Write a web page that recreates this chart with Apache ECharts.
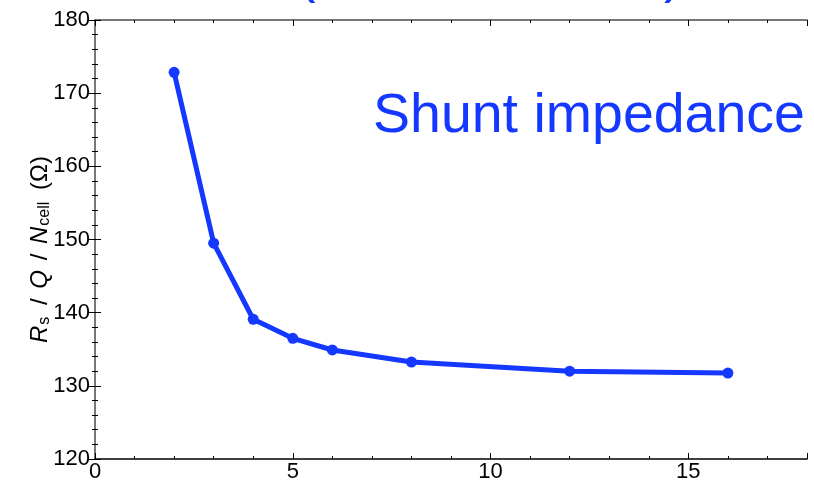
<!DOCTYPE html>
<html>
<head>
<meta charset="utf-8">
<script src="https://cdn.jsdelivr.net/npm/echarts@6/dist/echarts.min.js"></script>
<style>html,body{margin:0;padding:0;background:#fff;}#c{width:814px;height:483px;}</style>
</head>
<body>
<div id="c"></div>
<script>
const cellCounts = [2, 3, 4, 5, 6, 8, 12, 16];
const shuntImpedance = [172.85, 149.5, 139.1, 136.5, 134.9, 133.25, 132.0, 131.75];
const xTicks = [0, 5, 10, 15];
const yTicks = [120, 130, 140, 150, 160, 170, 180];

const blue = '#1438ff';
const chart = echarts.init(document.getElementById('c'), null, {renderer: 'canvas'});
const font = 'Liberation Sans, Arial, Helvetica, sans-serif';

chart.setOption({
  animation: false,
  backgroundColor: '#fff',
  grid: {left: 95, right: 7, top: 20, bottom: 24, containLabel: false},
  xAxis: [{
    type: 'value', min: 0, max: 18, interval: 5, position: 'bottom',
    axisLine: {show: true, lineStyle: {color: '#000', width: 1.5}},
    axisTick: {show: true, inside: true, length: 6, lineStyle: {color: '#000', width: 1}},
    minorTick: {show: true, splitNumber: 5, length: 3, lineStyle: {color: '#000', width: 1}},
    splitLine: {show: false},
    axisLabel: {show: true, margin: 2, fontSize: 22, color: '#000', fontFamily: font, showMaxLabel: false,
      formatter: v => xTicks.includes(v) ? String(v) : ''}
  }, {
    type: 'value', min: 0, max: 18, interval: 5, position: 'top',
    axisLine: {show: true, lineStyle: {color: '#777', width: 2}},
    axisTick: {show: true, inside: true, length: 6, lineStyle: {color: '#000', width: 1}},
    minorTick: {show: true, splitNumber: 5, length: 3, lineStyle: {color: '#000', width: 1}},
    splitLine: {show: false},
    axisLabel: {show: false}
  }],
  yAxis: [{
    type: 'value', min: 120, max: 180, interval: 10, position: 'left',
    axisLine: {show: true, lineStyle: {color: '#000', width: 1.5}},
    axisTick: {show: true, inside: true, length: 6, lineStyle: {color: '#000', width: 1}},
    minorTick: {show: true, splitNumber: 5, length: 3, lineStyle: {color: '#000', width: 1}},
    splitLine: {show: false},
    axisLabel: {show: true, margin: 5, fontSize: 22, color: '#000', fontFamily: font,
      formatter: v => yTicks.includes(v) ? String(v) : ''},
    name: '{i|R}{sub|s}{n| / }{i|Q}{n| / }{i|N}{sub|cell}{e| (Ω)}',
    nameLocation: 'middle', nameGap: 42, nameRotate: 90, nameMoveOverlap: false,
    nameTextStyle: {
      color: '#000', fontFamily: font,
      rich: {
        i: {fontSize: 24, fontStyle: 'italic', fontFamily: font, color: '#000'},
        n: {fontSize: 24, fontFamily: font, color: '#000', padding: [0, 3, 0, 3]},
        e: {fontSize: 24, fontFamily: font, color: '#000', padding: [0, 20, 0, 3]},
        sub: {fontSize: 16, fontFamily: font, color: '#000', verticalAlign: 'bottom', padding: [9, 2, 0, 1]}
      }
    }
  }, {
    type: 'value', min: 120, max: 180, interval: 10, position: 'right',
    axisLine: {show: true, lineStyle: {color: '#777', width: 2}},
    axisTick: {show: true, inside: true, length: 6, lineStyle: {color: '#000', width: 1}},
    minorTick: {show: true, splitNumber: 5, length: 3, lineStyle: {color: '#000', width: 1}},
    splitLine: {show: false},
    axisLabel: {show: false}
  }],
  series: [{
    type: 'line',
    xAxisIndex: 0, yAxisIndex: 0,
    data: cellCounts.map((x, i) => [x, shuntImpedance[i]]),
    lineStyle: {color: blue, width: 5},
    itemStyle: {color: blue},
    symbol: 'circle', symbolSize: 11,
    showSymbol: true
  }],
  graphic: [
    {type: 'text', left: 373, top: 89, style: {text: 'Shunt impedance', fontSize: 55.5, fontFamily: font, fill: blue}},
    {type: 'text', left: 297, top: -52, style: {text: '(', fontSize: 56, fontFamily: font, fill: blue}},
    {type: 'text', left: 664, top: -52, style: {text: ')', fontSize: 56, fontFamily: font, fill: blue}}
  ]
});
</script>
</body>
</html>
